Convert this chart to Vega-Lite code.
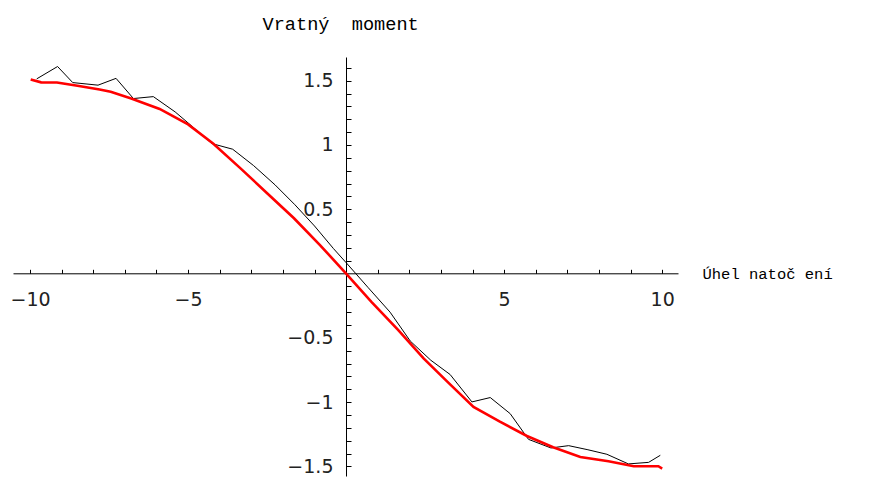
{
  "$schema": "https://vega.github.io/schema/vega-lite/v6.json",
  "width": 665,
  "height": 419,
  "autosize": {"type": "none"},
  "padding": {"left": 13, "top": 57, "right": 195, "bottom": 2},
  "background": "white",
  "config": {"view": {"stroke": null}, "axis": {"labelOverlap": false, "labelFlush": false, "labelBound": false}},
  "encoding": {
    "x": {
      "field": "angle", "type": "quantitative",
      "scale": {"domain": [-10.54, 10.5], "nice": false, "zero": false},
      "axis": {
        "orient": "bottom",
        "offset": -202.7,
        "values": [-10, -9, -8, -7, -6, -5, -4, -3, -2, -1, 1, 2, 3, 4, 5, 6, 7, 8, 9, 10],
        "labelExpr": "indexof([-10, -5, 5, 10], datum.value) >= 0 ? format(datum.value, '~g') : ''",
        "grid": false,
        "tickSize": -4,
        "tickColor": "black",
        "tickWidth": 1,
        "domainColor": "black",
        "domainWidth": 1,
        "labelPadding": 21,
        "labelFont": "DejaVu Sans",
        "labelFontSize": 19,
        "labelColor": "#222",
        "labelFlush": false,
        "labelOverlap": false,
        "title": "Úhel\u00a0natoč\u00a0ení",
        "titleFont": "Liberation Mono",
        "titleFontSize": 15.5,
        "titleFontWeight": "normal",
        "titleColor": "black",
        "titleAlign": "left",
        "titleAngle": 0,
        "titleBaseline": "alphabetic",
        "titleX": 689,
        "titleY": 5
      }
    },
    "y": {
      "field": "moment", "type": "quantitative",
      "scale": {"domain": [-1.574, 1.684], "nice": false, "zero": false},
      "axis": {
        "orient": "left",
        "offset": -333,
        "values": [-1.5, -1.4, -1.3, -1.2, -1.1, -1, -0.9, -0.8, -0.7, -0.6, -0.5, -0.4, -0.3, -0.2, -0.1, 0.1, 0.2, 0.3, 0.4, 0.5, 0.6, 0.7, 0.8, 0.9, 1, 1.1, 1.2, 1.3, 1.4, 1.5, 1.6],
        "labelExpr": "indexof([1.5, 1, 0.5, -0.5, -1, -1.5], datum.value) >= 0 ? format(datum.value, '~g') : ''",
        "grid": false,
        "tickSize": -5,
        "tickColor": "black",
        "tickWidth": 1,
        "domainColor": "black",
        "domainWidth": 1,
        "labelPadding": 18,
        "labelFont": "DejaVu Sans",
        "labelFontSize": 19,
        "labelColor": "#222",
        "labelFlush": false,
        "labelOverlap": false,
        "title": "Vratný\u00a0\u00a0moment",
        "titleFont": "Liberation Mono",
        "titleFontSize": 18.6,
        "titleFontWeight": "normal",
        "titleColor": "black",
        "titleAlign": "left",
        "titleAngle": 0,
        "titleBaseline": "alphabetic",
        "titleX": -84,
        "titleY": -28
      }
    }
  },
  "layer": [
    {
      "data": {"values": [
        {"angle": -9.79, "moment": 1.514},
        {"angle": -9.13, "moment": 1.61},
        {"angle": -8.65, "moment": 1.485},
        {"angle": -7.85, "moment": 1.465},
        {"angle": -7.28, "moment": 1.518},
        {"angle": -6.73, "moment": 1.361},
        {"angle": -6.10, "moment": 1.376},
        {"angle": -5.41, "moment": 1.257},
        {"angle": -4.85, "moment": 1.14},
        {"angle": -4.25, "moment": 1.011},
        {"angle": -3.59, "moment": 0.967},
        {"angle": -2.93, "moment": 0.84},
        {"angle": -2.25, "moment": 0.69},
        {"angle": -1.62, "moment": 0.535},
        {"angle": -1.0, "moment": 0.37},
        {"angle": -0.40, "moment": 0.194},
        {"angle": 0.0, "moment": 0.085},
        {"angle": 0.7, "moment": -0.11},
        {"angle": 1.39, "moment": -0.30},
        {"angle": 2.03, "moment": -0.525},
        {"angle": 2.68, "moment": -0.674},
        {"angle": 3.29, "moment": -0.785},
        {"angle": 3.98, "moment": -0.998},
        {"angle": 4.56, "moment": -0.964},
        {"angle": 5.19, "moment": -1.089},
        {"angle": 5.77, "moment": -1.289},
        {"angle": 6.48, "moment": -1.356},
        {"angle": 7.04, "moment": -1.338},
        {"angle": 7.65, "moment": -1.37},
        {"angle": 8.25, "moment": -1.405},
        {"angle": 8.93, "moment": -1.48},
        {"angle": 9.57, "moment": -1.468},
        {"angle": 9.94, "moment": -1.413}
      ]},
      "mark": {"type": "line", "color": "black", "strokeWidth": 1}
    },
    {
      "data": {"values": [
        {"angle": -9.98, "moment": 1.51},
        {"angle": -9.65, "moment": 1.487},
        {"angle": -9.15, "moment": 1.486},
        {"angle": -8.5, "moment": 1.46},
        {"angle": -7.8, "moment": 1.432},
        {"angle": -7.45, "moment": 1.413},
        {"angle": -6.8, "moment": 1.362},
        {"angle": -5.9, "moment": 1.28},
        {"angle": -5.0, "moment": 1.16},
        {"angle": -4.2, "moment": 1.01},
        {"angle": -3.35, "moment": 0.82},
        {"angle": -2.5, "moment": 0.625},
        {"angle": -1.65, "moment": 0.43},
        {"angle": -0.82, "moment": 0.22},
        {"angle": 0.0, "moment": 0.0},
        {"angle": 0.8, "moment": -0.22},
        {"angle": 1.65, "moment": -0.44},
        {"angle": 2.45, "moment": -0.66},
        {"angle": 3.2, "moment": -0.84},
        {"angle": 4.03, "moment": -1.037},
        {"angle": 4.85, "moment": -1.15},
        {"angle": 5.72, "moment": -1.263},
        {"angle": 6.55, "moment": -1.35},
        {"angle": 7.41, "moment": -1.426},
        {"angle": 8.3, "moment": -1.46},
        {"angle": 9.1, "moment": -1.498},
        {"angle": 9.88, "moment": -1.498},
        {"angle": 10.0, "moment": -1.516}
      ]},
      "mark": {"type": "line", "color": "#ff0000", "strokeWidth": 2.6}
    }
  ]
}
